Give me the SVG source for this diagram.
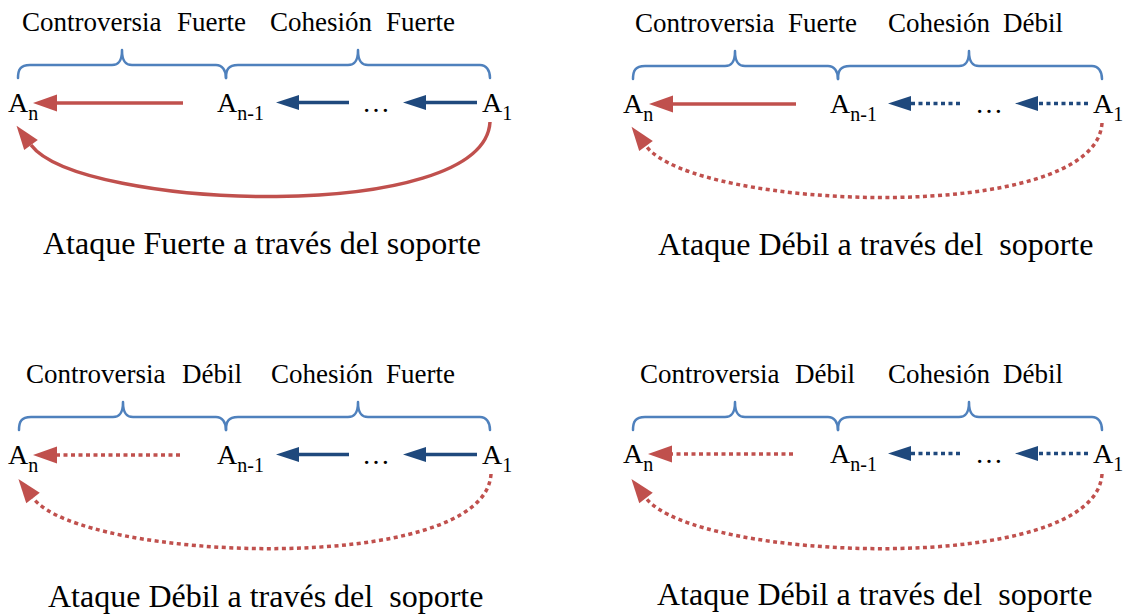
<svg xmlns="http://www.w3.org/2000/svg" width="1126" height="614" viewBox="0 0 1126 614" font-family="'Liberation Serif', 'Times New Roman', Tinos, 'DejaVu Serif', serif">
  <style>
    text { fill: #000; }
    .hd { font-size: 27px; }
    .nd { font-size: 28px; }
    .sb { font-size: 20px; }
    .cap { font-size: 32px; }
    .brace { fill: none; stroke: #4F81BD; stroke-width: 2.5; stroke-linecap: round; stroke-linejoin: round; }
    .red { fill: none; stroke: #C0504D; stroke-width: 3.5; }
    .blue { fill: none; stroke: #1F497D; stroke-width: 3.5; }
    .dot { stroke-dasharray: 4 3.5; }
    .ar-red { marker-end: url(#head-red); }
    .ar-blue { marker-end: url(#head-blue); }
  </style>
  <defs>
    <!-- arrowheads: the path ends at the base, the head extends forward -->
    <marker id="head-red" markerUnits="userSpaceOnUse" markerWidth="24" markerHeight="17" refX="0" refY="8.5" orient="auto" overflow="visible">
      <path d="M0,0 L24,8.5 L0,17 Z" fill="#C0504D"/>
    </marker>
    <marker id="head-blue" markerUnits="userSpaceOnUse" markerWidth="23" markerHeight="15" refX="0" refY="7.5" orient="auto" overflow="visible">
      <path d="M0,0 L23,7.5 L0,15 Z" fill="#1F497D"/>
    </marker>
  </defs>

  <!-- Panel 1: strong controversy, strong cohesion -->
  <g id="panel-1">
    <g id="p1-header">
      <text class="hd" x="22" y="31">Controversia</text>
      <text class="hd" x="177" y="31">Fuerte</text>
      <text class="hd" x="270" y="31">Cohesión</text>
      <text class="hd" x="386" y="31">Fuerte</text>
      <path class="brace" d="M18,78 C18,70 20,65 30,65 L112,65 C118,65 122,62 122,50 C122,62 126,65 132,65 L216,65 C222,65 226,70 226,78"/>
      <path class="brace" d="M226,78 C226,70 228,65 238,65 L348,65 C354,65 358,62 358,50 C358,62 362,65 368,65 L480,65 C486,65 490,70 490,78"/>
    </g>
    <g id="p1-An"><text class="nd" x="8" y="112">A<tspan class="sb" dy="8">n</tspan></text></g>
    <g id="p1-An-1"><text class="nd" x="217" y="112">A<tspan class="sb" dy="8">n-1</tspan></text></g>
    <g id="p1-dots"><text class="nd" x="362" y="112">…</text></g>
    <g id="p1-A1"><text class="nd" x="482" y="112">A<tspan class="sb" dy="8">1</tspan></text></g>
    <g id="p1-connectors">
      <line class="red ar-red" x1="183" y1="103" x2="57" y2="103"/>
      <line class="blue ar-blue" x1="349" y1="102.5" x2="299" y2="102.5"/>
      <line class="blue ar-blue" x1="477" y1="102.5" x2="426" y2="102.5"/>
      <path class="red ar-red" d="M490,122 C484,225 80,210 31,145"/>
    </g>
    <text class="cap" x="43" y="254">Ataque Fuerte a través del soporte</text>
  </g>

  <!-- Panel 2: strong controversy, weak cohesion -->
  <g id="panel-2" transform="translate(613,1)">
    <g id="p2-header">
      <text class="hd" x="22" y="31">Controversia</text>
      <text class="hd" x="175" y="31">Fuerte</text>
      <text class="hd" x="275" y="31">Cohesión</text>
      <text class="hd" x="390" y="31">Débil</text>
      <path class="brace" d="M20,78 C20,70 22,65 32,65 L112,65 C118,65 122,62 122,50 C122,62 126,65 132,65 L215,65 C221,65 225,70 225,78"/>
      <path class="brace" d="M225,78 C225,70 227,65 237,65 L346,65 C352,65 356,62 356,50 C356,62 360,65 366,65 L479,65 C485,65 489,70 489,78"/>
    </g>
    <g id="p2-An"><text class="nd" x="10" y="112">A<tspan class="sb" dy="8">n</tspan></text></g>
    <g id="p2-An-1"><text class="nd" x="217" y="112">A<tspan class="sb" dy="8">n-1</tspan></text></g>
    <g id="p2-dots"><text class="nd" x="362" y="112">…</text></g>
    <g id="p2-A1"><text class="nd" x="480" y="112">A<tspan class="sb" dy="8">1</tspan></text></g>
    <g id="p2-connectors">
      <line class="red ar-red" x1="183" y1="103" x2="60" y2="103"/>
      <line class="blue dot ar-blue" x1="347" y1="102.5" x2="298" y2="102.5"/>
      <line class="blue dot ar-blue" x1="475" y1="102.5" x2="425" y2="102.5"/>
      <path class="red dot ar-red" d="M489,122 C483,225 82,210 33,145"/>
    </g>
    <text class="cap" x="45" y="254" xml:space="preserve">Ataque Débil a través del  soporte</text>
  </g>

  <!-- Panel 3: weak controversy, strong cohesion -->
  <g id="panel-3" transform="translate(0,352)">
    <g id="p3-header">
      <text class="hd" x="26" y="31">Controversia</text>
      <text class="hd" x="182" y="31">Débil</text>
      <text class="hd" x="271" y="31">Cohesión</text>
      <text class="hd" x="386" y="31">Fuerte</text>
      <path class="brace" d="M19,78 C19,70 21,65 31,65 L113,65 C119,65 123,62 123,50 C123,62 127,65 133,65 L216,65 C222,65 226,70 226,78"/>
      <path class="brace" d="M226,78 C226,70 228,65 238,65 L348,65 C354,65 358,62 358,50 C358,62 362,65 368,65 L480,65 C486,65 490,70 490,78"/>
    </g>
    <g id="p3-An"><text class="nd" x="8" y="112">A<tspan class="sb" dy="8">n</tspan></text></g>
    <g id="p3-An-1"><text class="nd" x="217" y="112">A<tspan class="sb" dy="8">n-1</tspan></text></g>
    <g id="p3-dots"><text class="nd" x="362" y="112">…</text></g>
    <g id="p3-A1"><text class="nd" x="482" y="112">A<tspan class="sb" dy="8">1</tspan></text></g>
    <g id="p3-connectors">
      <line class="red dot ar-red" x1="180" y1="103" x2="57" y2="103"/>
      <line class="blue ar-blue" x1="349" y1="102.5" x2="299" y2="102.5"/>
      <line class="blue ar-blue" x1="477" y1="102.5" x2="426" y2="102.5"/>
      <path class="red dot ar-red" d="M491,122 C485,225 82,210 33,146"/>
    </g>
    <text class="cap" x="48" y="255" xml:space="preserve">Ataque Débil a través del  soporte</text>
  </g>

  <!-- Panel 4: weak controversy, weak cohesion -->
  <g id="panel-4" transform="translate(613,351)">
    <g id="p4-header">
      <text class="hd" x="27" y="32">Controversia</text>
      <text class="hd" x="182" y="32">Débil</text>
      <text class="hd" x="275" y="32">Cohesión</text>
      <text class="hd" x="390" y="32">Débil</text>
      <path class="brace" d="M20,79 C20,71 22,66 32,66 L112,66 C118,66 122,63 122,51 C122,63 126,66 132,66 L215,66 C221,66 225,71 225,79"/>
      <path class="brace" d="M225,79 C225,71 227,66 237,66 L346,66 C352,66 356,63 356,51 C356,63 360,66 366,66 L479,66 C485,66 489,71 489,79"/>
    </g>
    <g id="p4-An"><text class="nd" x="10" y="112">A<tspan class="sb" dy="8">n</tspan></text></g>
    <g id="p4-An-1"><text class="nd" x="217" y="112">A<tspan class="sb" dy="8">n-1</tspan></text></g>
    <g id="p4-dots"><text class="nd" x="362" y="112">…</text></g>
    <g id="p4-A1"><text class="nd" x="480" y="112">A<tspan class="sb" dy="8">1</tspan></text></g>
    <g id="p4-connectors">
      <line class="red dot ar-red" x1="180" y1="103" x2="59" y2="103"/>
      <line class="blue dot ar-blue" x1="347" y1="102.5" x2="298" y2="102.5"/>
      <line class="blue dot ar-blue" x1="475" y1="102.5" x2="425" y2="102.5"/>
      <path class="red dot ar-red" d="M489,123 C483,226 82,211 33,147"/>
    </g>
    <text class="cap" x="44" y="254" xml:space="preserve">Ataque Débil a través del  soporte</text>
  </g>
</svg>
